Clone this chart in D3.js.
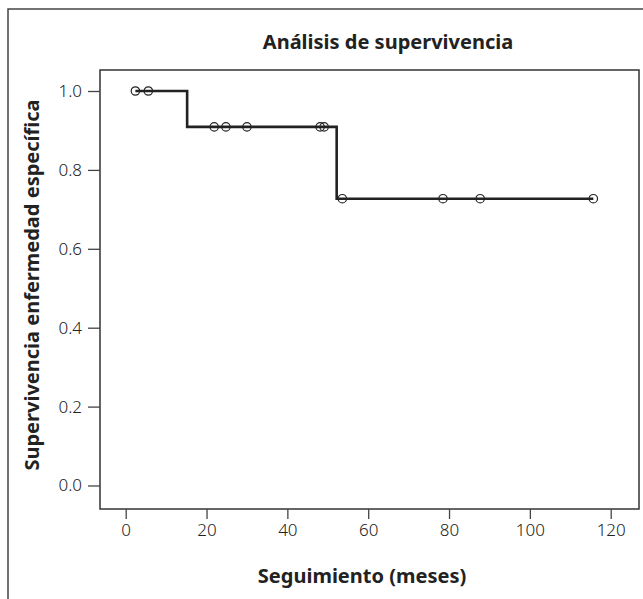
<!DOCTYPE html>
<html>
<head>
<meta charset="utf-8">
<script src="https://cdn.jsdelivr.net/npm/d3@7"></script>
<style>
  body { margin: 0; background: #fff; }
  text { font-family: "Noto Sans", "Open Sans", sans-serif; fill: #222; }
</style>
</head>
<body>
<div id="chart"></div>
<script>
// Kaplan-Meier steps (months, survival)
var stepTimes = [2.4, 15.2, 52.2, 115.7];
var stepSurv = [1.0, 0.909, 0.727, 0.727];

// censored observations
var censorTimes = [2.4, 5.6, 21.9, 24.8, 30.0, 48.1, 49.1, 53.6, 78.5, 87.7, 115.7];
var censorSurv = [1.0, 1.0, 0.909, 0.909, 0.909, 0.909, 0.909, 0.727, 0.727, 0.727, 0.727];

var xTicks = [0, 20, 40, 60, 80, 100, 120];
var yTicks = [0.0, 0.2, 0.4, 0.6, 0.8, 1.0];

var W = 643, H = 599;

var svg = d3.select("#chart").append("svg")
    .attr("width", W)
    .attr("height", H);

// outer frame
svg.append("rect")
    .attr("x", 8).attr("y", 9)
    .attr("width", 660).attr("height", 620)
    .attr("fill", "none")
    .attr("stroke", "#444")
    .attr("stroke-width", 1.5);

var box = {left: 100, top: 70, right: 639, bottom: 509};

var x = d3.scaleLinear().domain([0, 120]).range([125.7, 610.7]);
var y = d3.scaleLinear().domain([0, 1]).range([485.5, 91]);

// plot box
svg.append("rect")
    .attr("x", box.left).attr("y", box.top)
    .attr("width", box.right - box.left).attr("height", box.bottom - box.top)
    .attr("fill", "none")
    .attr("stroke", "#333")
    .attr("stroke-width", 1.5);

// axes
var xAxis = svg.append("g")
    .attr("transform", "translate(0," + box.bottom + ")")
    .call(d3.axisBottom(x).tickValues(xTicks).tickSize(10).tickPadding(5));

var yAxis = svg.append("g")
    .attr("transform", "translate(" + box.left + ",0)")
    .call(d3.axisLeft(y).tickValues(yTicks).tickFormat(d3.format(".1f")).tickSize(12).tickPadding(6));

[xAxis, yAxis].forEach(function(a) {
  a.select(".domain").remove();
  a.selectAll(".tick line").attr("stroke", "#444").attr("stroke-width", 1.3);
  a.selectAll(".tick text")
      .style("font-size", "17px")
      .style("font-weight", "300")
      .attr("fill", "#3a3a3a");
});

// survival step line
var line = d3.line()
    .x(function(d) { return x(d[0]); })
    .y(function(d) { return y(d[1]); })
    .curve(d3.curveStepAfter);

svg.append("path")
    .datum(stepTimes.map(function(t, i) { return [t, stepSurv[i]]; }))
    .attr("d", line)
    .attr("fill", "none")
    .attr("stroke", "#222")
    .attr("stroke-width", 2.6);

// censor marks
svg.selectAll(".censor")
    .data(censorTimes)
    .enter()
    .append("circle")
    .attr("class", "censor")
    .attr("cx", function(d) { return x(d); })
    .attr("cy", function(d, i) { return y(censorSurv[i]); })
    .attr("r", 4.2)
    .attr("fill", "none")
    .attr("stroke", "#222")
    .attr("stroke-width", 1.2);

// titles
svg.append("text")
    .attr("x", 388).attr("y", 49)
    .attr("text-anchor", "middle")
    .style("font-size", "20px")
    .style("font-weight", "bold")
    .text("Análisis de supervivencia");

svg.append("text")
    .attr("x", 362).attr("y", 583)
    .attr("text-anchor", "middle")
    .style("font-size", "20px")
    .style("font-weight", "bold")
    .text("Seguimiento (meses)");

svg.append("text")
    .attr("transform", "translate(39," + 285 + ") rotate(-90)")
    .attr("text-anchor", "middle")
    .style("font-size", "20px")
    .style("font-weight", "bold")
    .text("Supervivencia enfermedad específica");
</script>
</body>
</html>
